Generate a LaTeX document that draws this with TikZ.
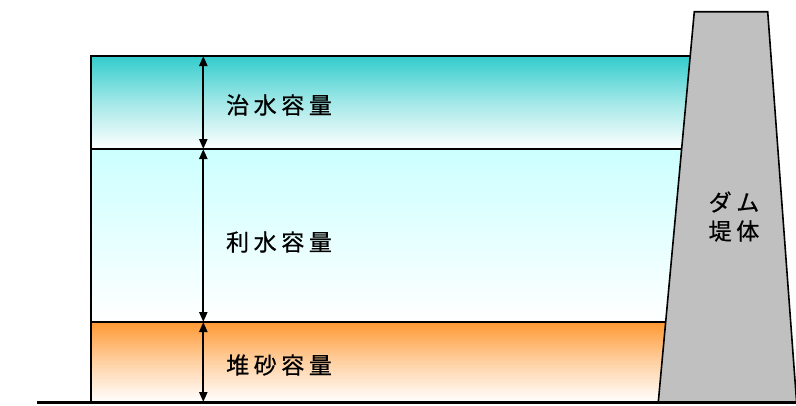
\documentclass[tikz,border=0pt]{standalone}
\usepackage{fontspec}
\newfontfamily\jp[LetterSpace=20,FakeBold=0.6]{Noto Sans CJK JP}
\usetikzlibrary{arrows.meta}
\definecolor{teal1}{RGB}{51,204,204}
\definecolor{cyan1}{RGB}{204,255,255}
\definecolor{orange1}{RGB}{255,153,51}
\definecolor{damgray}{RGB}{192,192,192}
\tikzset{
  band/.style={draw=black, line width=1.6pt},
  dimarrow/.style={{Triangle[length=10pt,width=8pt]}-{Triangle[length=10pt,width=8pt]}, line width=2.2pt},
  lbl/.style={font=\jp\fontsize{23}{26}\selectfont, inner sep=0pt},
}
\begin{document}
\begin{tikzpicture}[x=1pt,y=-1pt]
\useasboundingbox (0,0) rectangle (796,405);
% bands
\shade[top color=teal1, bottom color=white, middle color=teal1!45!white] (91,56) rectangle (700,149);
\shade[top color=cyan1, bottom color=white] (91,149) rectangle (700,322);
\shade[top color=orange1, bottom color=white, middle color=orange1!45!white] (91,322) rectangle (700,402);
\draw[band] (700,56) -- (91,56) -- (91,402);
\draw[band] (91,149) -- (700,149);
\draw[band] (91,322) -- (700,322);
% dam
\draw[line width=1.6pt, fill=damgray] (658.3,402) -- (694.3,11.7) -- (767.7,11.7) -- (796.6,402) -- cycle;
% ground
\draw[line width=2.6pt] (37,402.5) -- (796,402.5);
% arrows
\coordinate (a0) at (203.3,56);
\coordinate (a1) at (203.3,149);
\coordinate (a2) at (203.3,322);
\coordinate (a3) at (203.3,402);
\draw[dimarrow] (a0) -- (a1);
\draw[dimarrow] (a1) -- (a2);
\draw[dimarrow] (a2) -- (a3);
% labels
\node[lbl] (t1) at (279,105) {治水容量};
\node[lbl] (t2) at (279,242) {利水容量};
\node[lbl] (t3) at (279,365) {堆砂容量};
\node[lbl] (d1) at (734,202) {ダム};
\node[lbl] (d2) at (734,231) {堤体};
\end{tikzpicture}
\end{document}
